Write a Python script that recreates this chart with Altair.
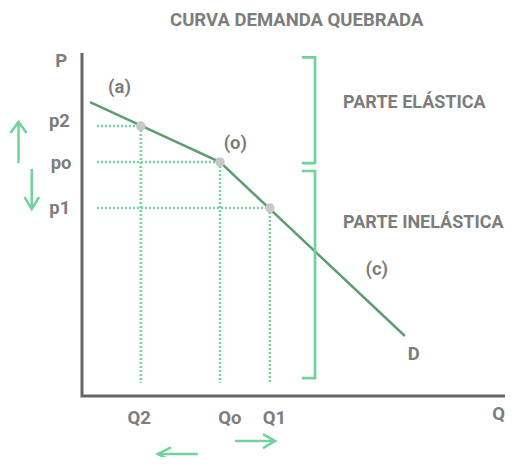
import altair as alt
import pandas as pd

# ---- data (quantity Q, price P units) ----
demand_q = [1.9, 32.4, 75.8]
demand_p = [85.7, 68.2, 17.5]

pts_q = [13.8, 32.4, 44.1]
pts_p = [78.7, 68.2, 54.8]

dot_start_q = 3.5
dot_bottom_p = 3.8

axis_max = 100

bracket_q = [51.6, 54.7]
bracket_upper_p = [98.7, 67.9]
bracket_lower_p = [65.6, 5.2]

arrow_segments = [
    ("up_shaft", [(-14.9, 67.9), (-14.9, 79.9)]),
    ("up_head", [(-16.8, 76.7), (-14.9, 79.9), (-13.0, 76.7)]),
    ("down_shaft", [(-11.8, 66.2), (-11.8, 54.5)]),
    ("down_head", [(-13.5, 58.0), (-11.8, 54.5), (-10.1, 58.0)]),
    ("left_shaft", [(27.2, -16.9), (17.8, -16.9)]),
    ("left_head", [(20.9, -15.0), (17.8, -16.9), (20.9, -18.8)]),
    ("right_shaft", [(35.9, -13.1), (45.3, -13.1)]),
    ("right_head", [(42.5, -11.1), (45.3, -13.1), (42.5, -15.2)]),
]

label_text = ["P", "(a)", "p2", "po", "p1", "(o)", "(c)", "D", "Q2", "Qo", "Q1"]
label_q = [-4.9, 8.8, -5.3, -4.9, -5.2, 36.0, 69.2, 77.9, 13.4, 34.7, 45.2]
label_p = [95.9, 88.4, 78.4, 66.2, 53.1, 72.0, 35.4, 10.5, -8.2, -8.2, -8.2]

end_text = ["Q"]
end_q = [99.3]
end_p = [-7.0]

side_text = ["PARTE ELÁSTICA", "PARTE INELÁSTICA"]
side_q = [61.3, 61.3]
side_p = [84.0, 49.0]

title_text = "CURVA DEMANDA QUEBRADA"
title_q = 50.4
title_p = 112.3

# ---- build tables ----
x_dom = [-17.37, 99.30]
y_dom = [-17.78, 113.12]
X = lambda: alt.X("q:Q", scale=alt.Scale(domain=x_dom), axis=None)
Y = lambda: alt.Y("p:Q", scale=alt.Scale(domain=y_dom), axis=None)

green_dark = "#5c9e6f"
green_light = "#6fd39a"
grey_text = "#7d7d7d"

demand_df = pd.DataFrame({"q": demand_q, "p": demand_p, "o": range(3)})
pts_df = pd.DataFrame({"q": pts_q, "p": pts_p})

dots_rows = []
for i, (q, p) in enumerate(zip(pts_q, pts_p)):
    dots_rows += [
        {"seg": f"h{i}", "o": 0, "q": dot_start_q, "p": p},
        {"seg": f"h{i}", "o": 1, "q": q, "p": p},
        {"seg": f"v{i}", "o": 0, "q": q, "p": p},
        {"seg": f"v{i}", "o": 1, "q": q, "p": dot_bottom_p},
    ]
dots_df = pd.DataFrame(dots_rows)

axes_df = pd.DataFrame([
    {"seg": "a", "o": 0, "q": 0, "p": axis_max},
    {"seg": "a", "o": 1, "q": 0, "p": 0},
    {"seg": "a", "o": 2, "q": axis_max, "p": 0},
])

br_rows = []
for name, (p_top, p_bot) in (("u", bracket_upper_p), ("l", bracket_lower_p)):
    br_rows += [
        {"seg": name, "o": 0, "q": bracket_q[0], "p": p_top},
        {"seg": name, "o": 1, "q": bracket_q[1], "p": p_top},
        {"seg": name, "o": 2, "q": bracket_q[1], "p": p_bot},
        {"seg": name, "o": 3, "q": bracket_q[0], "p": p_bot},
    ]
br_df = pd.DataFrame(br_rows)

arr_rows = []
for name, coords in arrow_segments:
    for j, (q, p) in enumerate(coords):
        arr_rows.append({"seg": name, "o": j, "q": q, "p": p})
arr_df = pd.DataFrame(arr_rows)

labels_df = pd.DataFrame({"t": label_text, "q": label_q, "p": label_p})
end_df = pd.DataFrame({"t": end_text, "q": end_q, "p": end_p})
side_df = pd.DataFrame({"t": side_text, "q": side_q, "p": side_p})
title_df = pd.DataFrame({"t": [title_text], "q": [title_q], "p": [title_p]})

# ---- layers ----
axes = alt.Chart(axes_df).mark_line(color="#666666", strokeWidth=3, strokeCap="butt").encode(
    x=X(), y=Y(), detail="seg:N", order="o:Q")

dots = alt.Chart(dots_df).mark_line(color=green_light, strokeWidth=2.5, strokeDash=[2, 2]).encode(
    x=X(), y=Y(), detail="seg:N", order="o:Q")

demand = alt.Chart(demand_df).mark_line(color=green_dark, strokeWidth=2.5).encode(
    x=X(), y=Y(), order="o:Q")

points = alt.Chart(pts_df).mark_point(filled=True, color="#c8c8c8", size=90, opacity=1).encode(
    x=X(), y=Y())

brackets = alt.Chart(br_df).mark_line(color=green_light, strokeWidth=2.7).encode(
    x=X(), y=Y(), detail="seg:N", order="o:Q")

arrows = alt.Chart(arr_df).mark_line(color=green_light, strokeWidth=2.5).encode(
    x=X(), y=Y(), detail="seg:N", order="o:Q")

txt_style = dict(font="Roboto", fontWeight="bold", fontSize=18.5, color=grey_text, baseline="alphabetic")
labels = alt.Chart(labels_df).mark_text(align="center", **txt_style).encode(
    x=X(), y=Y(), text="t:N")
end_label = alt.Chart(end_df).mark_text(align="right", **txt_style).encode(
    x=X(), y=Y(), text="t:N")
side = alt.Chart(side_df).mark_text(align="left", font="Roboto", fontWeight="bold",
                                    fontSize=18, color=grey_text, baseline="alphabetic").encode(
    x=X(), y=Y(), text="t:N")
title = alt.Chart(title_df).mark_text(align="center", font="Roboto", fontWeight="bold",
                                      fontSize=18.5, color=grey_text, baseline="top").encode(
    x=X(), y=Y(), text="t:N")

chart = alt.layer(dots, axes, demand, points, brackets, arrows, labels, end_label, side, title).properties(
    width=497, height=449, padding=0, autosize=alt.AutoSizeParams(type="none")
).configure_view(stroke=None)

chart.save("out.html", embed_options={"renderer": "svg", "actions": False})
